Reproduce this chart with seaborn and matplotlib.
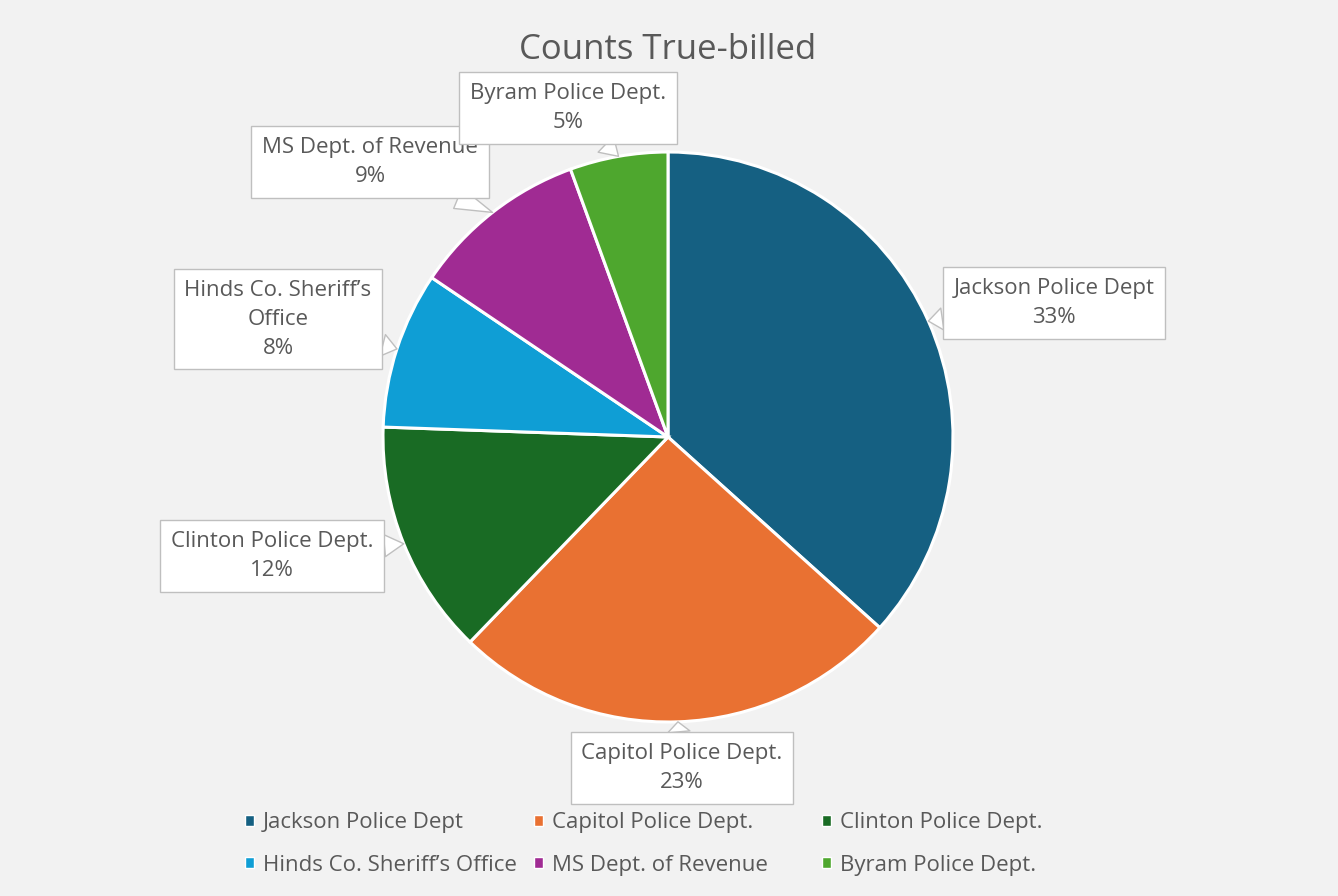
import matplotlib
matplotlib.use("Agg")
import matplotlib.pyplot as plt
import seaborn as sns
from matplotlib.patches import Patch
import numpy as np

# data
agencies = ['Jackson Police Dept', 'Capitol Police Dept.', 'Clinton Police Dept.',
            'Hinds Co. Sheriff\u2019s Office', 'MS Dept. of Revenue', 'Byram Police Dept.']
box_labels = ['Jackson Police Dept', 'Capitol Police Dept.', 'Clinton Police Dept.',
              'Hinds Co. Sheriff\u2019s\nOffice', 'MS Dept. of Revenue', 'Byram Police Dept.']
shares = [33, 23, 12, 8, 9, 5]
colors = ['#156082', '#E97132', '#196B24', '#0F9ED5', '#A02B93', '#4EA72E']

sns.set_theme(style='white')
plt.rcParams['font.family'] = ['Open Sans', 'DejaVu Sans']
palette = sns.color_palette(colors)

W, H = 1338, 896
BG = '#F2F2F2'
TXT = '#595959'
FS = 16

fig = plt.figure(figsize=(W / 100, H / 100), dpi=100, facecolor=BG)
ax = fig.add_axes([0, 0, 1, 1])
ax.set_facecolor(BG)

cx, cy, r = 668, H - 437, 285
wedges, _ = ax.pie(shares, colors=palette, startangle=90, counterclock=False,
                   center=(cx, cy), radius=r,
                   wedgeprops=dict(edgecolor='white', linewidth=2.2))
ax.set_xlim(0, W)
ax.set_ylim(0, H)
ax.set_aspect('equal')
ax.axis('off')

# label box centres (pixel coords, y from top)
box_pos = [(1054, 303), (682, 768), (272, 556), (278, 319), (370, 162), (568, 108)]
for w, lab, v, (bx, by) in zip(wedges, box_labels, shares, box_pos):
    mid = np.deg2rad((w.theta1 + w.theta2) / 2)
    tip = (cx + r * np.cos(mid), cy + r * np.sin(mid))
    ax.annotate(f'{lab}\n{v}%', xy=tip, xytext=(bx, H - by),
                ha='center', va='center', fontsize=FS, color=TXT, linespacing=1.5,
                bbox=dict(boxstyle='square,pad=0.48', fc='white', ec='#BFBFBF', lw=1),
                arrowprops=dict(arrowstyle='wedge,tail_width=1.0,shrink_factor=0.5',
                                fc='white', ec='#BFBFBF', lw=1, shrinkA=0, shrinkB=0))

fig.text(668 / W, 1 - 50 / H, 'Counts True-billed', ha='center', va='center',
         fontsize=25, color=TXT)

# legend: three fixed-width columns, two rows
handles = [Patch(facecolor=c, edgecolor='white', linewidth=1) for c in palette]
col_x = [245, 534, 822]
for i, x in enumerate(col_x):
    idx = [i, i + 3]
    fig.legend([handles[j] for j in idx], [agencies[j] for j in idx],
               loc='center left', bbox_to_anchor=(x / W, 1 - 844 / H),
               frameon=False, fontsize=FS, labelcolor=TXT,
               handlelength=0.42, handleheight=0.42, handletextpad=0.4,
               labelspacing=0.95, borderpad=0, borderaxespad=0)

fig.savefig('out.png', dpi=100, facecolor=BG)
